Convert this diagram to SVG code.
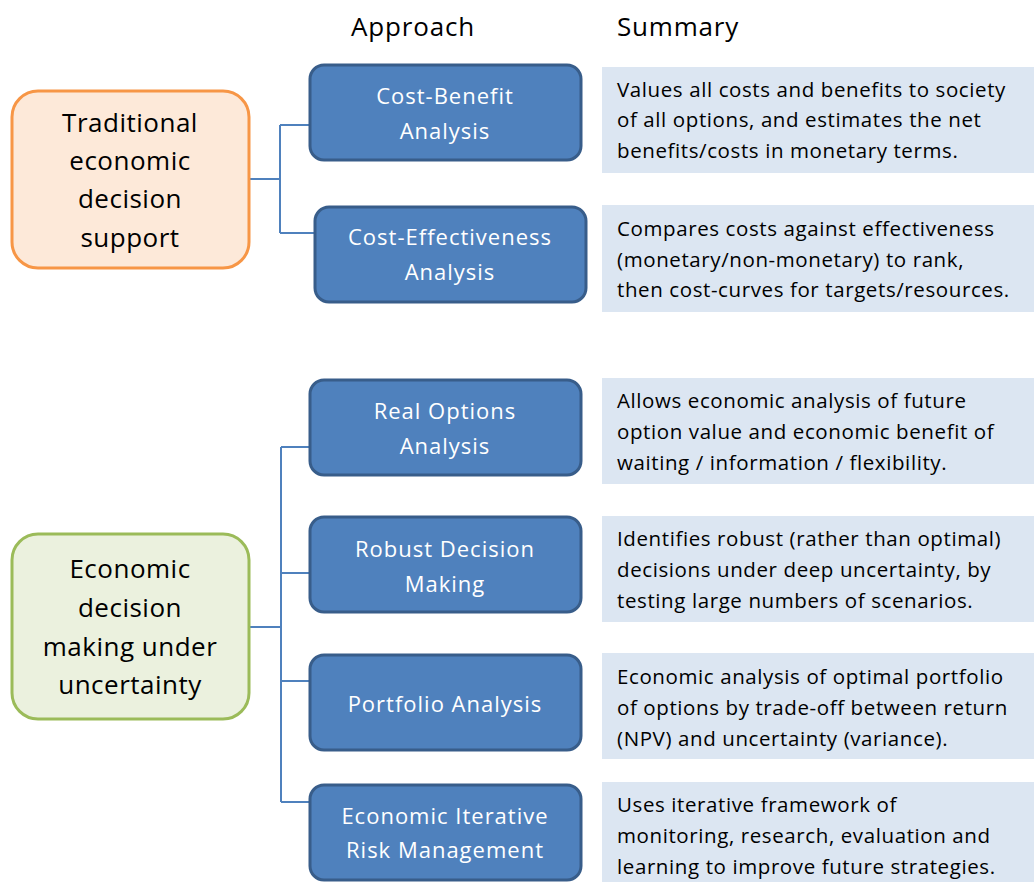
<svg xmlns="http://www.w3.org/2000/svg" width="1034" height="882" viewBox="0 0 1034 882">
<style>
.hdr{font-family:"Open Sans","Liberation Sans",sans-serif;font-size:26px;letter-spacing:0.8px;fill:#000}
.cat{font-family:"Open Sans","Liberation Sans",sans-serif;font-size:26px;letter-spacing:0.5px;fill:#000;text-anchor:middle}
.app rect{fill:#4F81BD;stroke:#385D8A;stroke-width:3}
.app text{font-family:"Open Sans","Liberation Sans",sans-serif;font-size:22px;letter-spacing:1px;fill:#fff;text-anchor:middle}
.sum rect{fill:#DCE6F2}
.sum text{font-family:"Open Sans","Liberation Sans",sans-serif;font-size:20.5px;letter-spacing:0.6px;fill:#000}
.conn{fill:none;stroke:#4F81BD;stroke-width:2}
</style>
<rect width="1034" height="882" fill="#fff"/>
<g id="headers">
<text class="hdr" x="413" y="36" text-anchor="middle">Approach</text>
<text class="hdr" x="617" y="36">Summary</text>
</g>
<g id="connectors">
<path class="conn" d="M249,179 H280 M280,125 V233 M280,125 H310 M280,233 H315"/>
<path class="conn" d="M249,627 H281 M281,447 V802 M281,447 H310 M281,573 H310 M281,681 H310 M281,802 H310"/>
</g>
<g id="cat-traditional">
<rect x="12" y="91" width="237" height="177" rx="26" fill="#FDE9D9" stroke="#F79646" stroke-width="3"/>
<text class="cat" x="130" y="132">Traditional</text>
<text class="cat" x="130" y="170">economic</text>
<text class="cat" x="130" y="208">decision</text>
<text class="cat" x="130" y="247">support</text>
</g>
<g id="cat-uncertainty">
<rect x="12" y="534" width="237" height="185" rx="26" fill="#EBF1DE" stroke="#9BBB59" stroke-width="3"/>
<text class="cat" x="130" y="578">Economic</text>
<text class="cat" x="130" y="617">decision</text>
<text class="cat" x="130" y="656">making under</text>
<text class="cat" x="130" y="694">uncertainty</text>
</g>
<g id="app-cba" class="app">
<rect x="310" y="65" width="271" height="95" rx="14"/>
<text x="445" y="104">Cost-Benefit</text>
<text x="445" y="139">Analysis</text>
</g>
<g id="app-cea" class="app">
<rect x="315" y="207" width="271" height="95" rx="14"/>
<text x="450" y="245">Cost-Effectiveness</text>
<text x="450" y="280">Analysis</text>
</g>
<g id="app-roa" class="app">
<rect x="310" y="380" width="271" height="95" rx="14"/>
<text x="445" y="419">Real Options</text>
<text x="445" y="454">Analysis</text>
</g>
<g id="app-rdm" class="app">
<rect x="310" y="517" width="271" height="95" rx="14"/>
<text x="445" y="557">Robust Decision</text>
<text x="445" y="592">Making</text>
</g>
<g id="app-pa" class="app">
<rect x="310" y="655" width="271" height="95" rx="14"/>
<text x="445" y="712">Portfolio Analysis</text>
</g>
<g id="app-eirm" class="app">
<rect x="310" y="785" width="271" height="95" rx="14"/>
<text x="445" y="824">Economic Iterative</text>
<text x="445" y="858">Risk Management</text>
</g>
<g id="sum-cba" class="sum">
<rect x="602" y="67" width="432" height="106"/>
<text x="617" y="97">Values all costs and benefits to society</text>
<text x="617" y="127">of all options, and estimates the net</text>
<text x="617" y="158">benefits/costs in monetary terms.</text>
</g>
<g id="sum-cea" class="sum">
<rect x="602" y="205" width="432" height="107"/>
<text x="617" y="236">Compares costs against effectiveness</text>
<text x="617" y="267">(monetary/non-monetary) to rank,</text>
<text x="617" y="297">then cost-curves for targets/resources.</text>
</g>
<g id="sum-roa" class="sum">
<rect x="602" y="378" width="432" height="106"/>
<text x="617" y="408">Allows economic analysis of future</text>
<text x="617" y="439">option value and economic benefit of</text>
<text x="617" y="470">waiting / information / flexibility.</text>
</g>
<g id="sum-rdm" class="sum">
<rect x="602" y="516" width="432" height="106"/>
<text x="617" y="546">Identifies robust (rather than optimal)</text>
<text x="617" y="577">decisions under deep uncertainty, by</text>
<text x="617" y="608">testing large numbers of scenarios.</text>
</g>
<g id="sum-pa" class="sum">
<rect x="602" y="653" width="432" height="106"/>
<text x="617" y="684">Economic analysis of optimal portfolio</text>
<text x="617" y="715">of options by trade-off between return</text>
<text x="617" y="746">(NPV) and uncertainty (variance).</text>
</g>
<g id="sum-eirm" class="sum">
<rect x="602" y="782" width="432" height="100"/>
<text x="617" y="812">Uses iterative framework of</text>
<text x="617" y="843">monitoring, research, evaluation and</text>
<text x="617" y="874">learning to improve future strategies.</text>
</g>
</svg>
